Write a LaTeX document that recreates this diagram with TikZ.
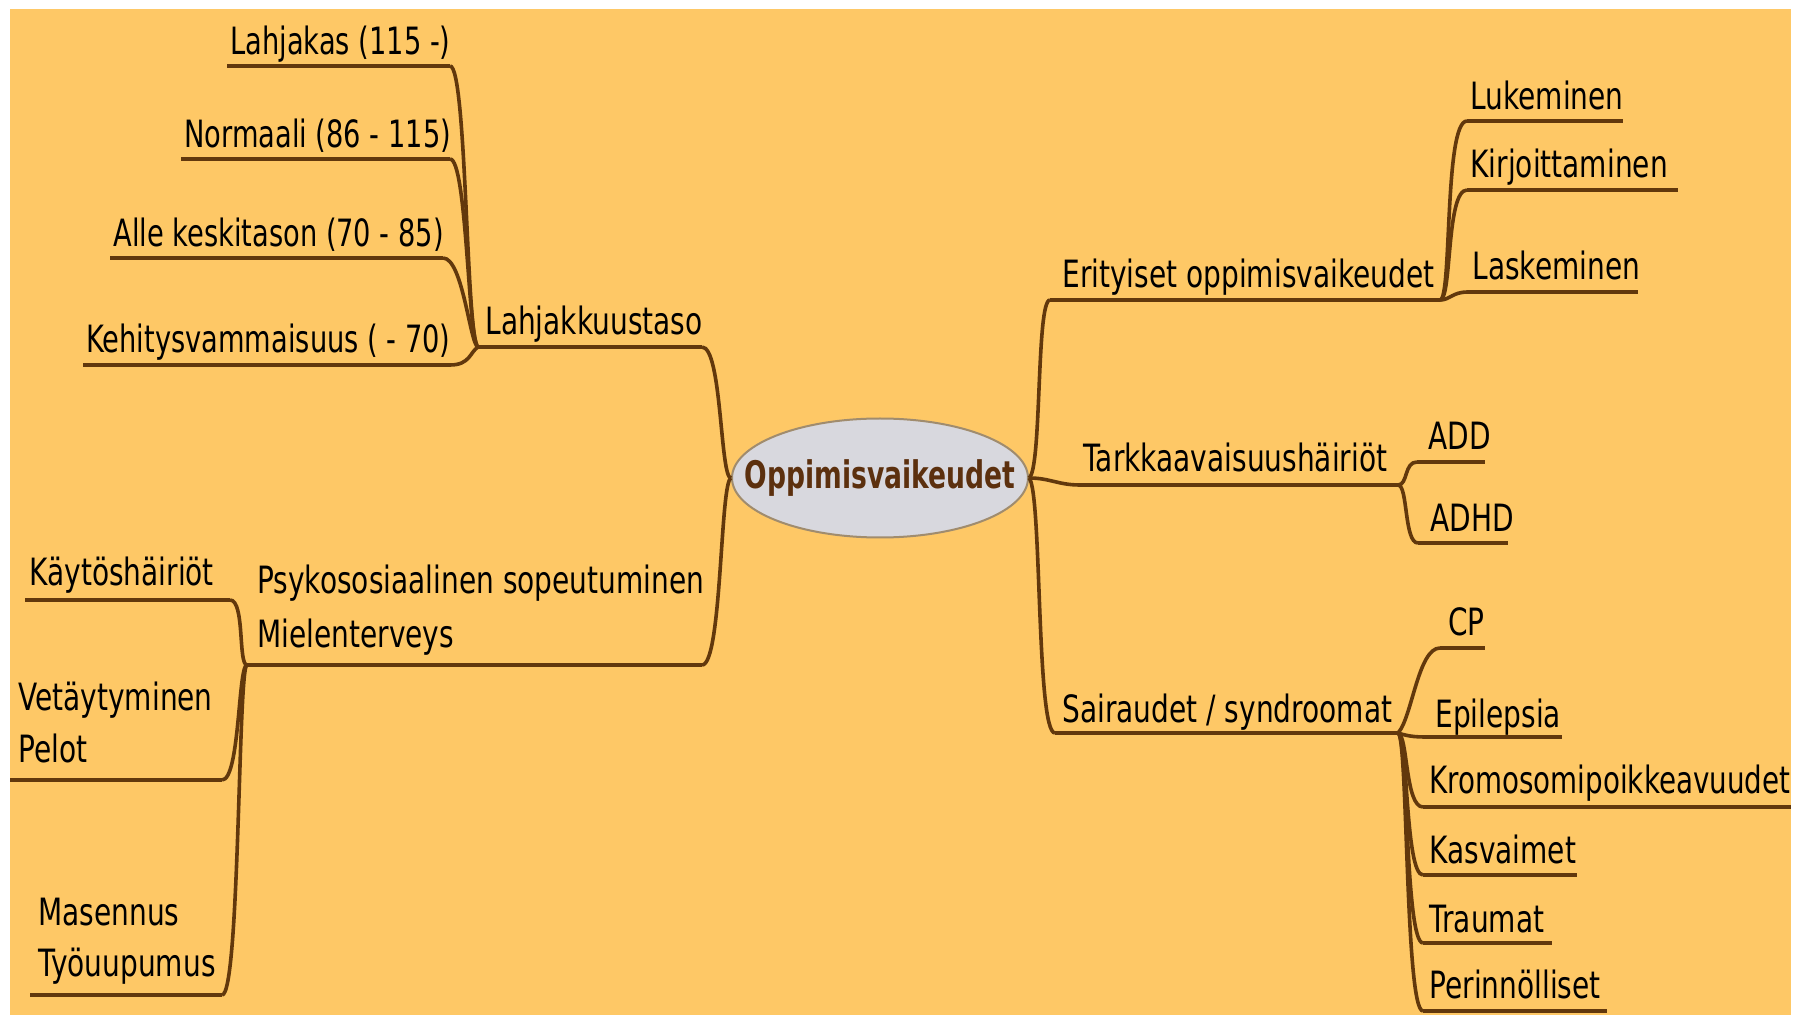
\documentclass[tikz,border=0pt]{standalone}
\usepackage{fontspec}
\setmainfont{DejaVu Sans}
\usepackage{graphicx}
\usetikzlibrary{shapes.geometric}
\definecolor{bg}{RGB}{254,200,102}
\definecolor{br}{RGB}{98,56,12}
\definecolor{ttl}{RGB}{92,48,14}
\definecolor{ellf}{RGB}{216,216,222}
\definecolor{ellb}{RGB}{160,140,110}
\newcommand{\tx}[1]{\scalebox{0.745}[1]{#1}}
\newcommand{\txn}[1]{\scalebox{0.725}[1]{#1}}
\tikzset{
  lbl/.style={font=\fontsize{18.8}{22}\selectfont, text=black, inner sep=0pt, anchor=base west},
  uline/.style={draw=br, line width=2.3pt},
  conn/.style={draw=br, line width=1.8pt},
  hub/.style={ellipse, fill=ellf, draw=ellb, line width=1pt, minimum width=148pt, minimum height=59.5pt, inner sep=0pt},
}
\begin{document}
\begin{tikzpicture}[x=0.5pt,y=-0.5pt]
\useasboundingbox (0,0) rectangle (1793,1015);
\fill[white] (0,0) rectangle (1793,1015);
\fill[bg] (10,9) rectangle (1791,1015);

% centre
\node[hub] (c) at (880,478) {\makebox[0pt]{\fontsize{19}{22}\selectfont\bfseries\color{ttl}\scalebox{0.70}[1]{Oppimisvaikeudet}}};

% ---------- Lahjakkuustaso ----------
\node[lbl] (lahjt) at (485,335) {\tx{Lahjakkuustaso}};
\coordinate (J1) at (478,347);
\coordinate (J1e) at (702,347);
\draw[uline] (J1) -- (J1e);
\draw[conn] (J1e) .. controls (722,347) and (720,478) .. (c.west);

\node[lbl] (lahj) at (230,55) {\txn{Lahjakas (115 -)}};
\coordinate (lahjA) at (227,66); \coordinate (lahjB) at (450,66);
\draw[uline] (lahjA) -- (lahjB);
\draw[conn] (lahjB) .. controls (467,66) and (466,340) .. (J1);

\node[lbl] (norm) at (184,148) {\txn{Normaali (86 - 115)}};
\coordinate (normA) at (181,159); \coordinate (normB) at (450,159);
\draw[uline] (normA) -- (normB);
\draw[conn] (normB) .. controls (467,159) and (468,340) .. (J1);

\node[lbl] (alle) at (113,247) {\txn{Alle keskitason (70 - 85)}};
\coordinate (alleA) at (110,258); \coordinate (alleB) at (443,258);
\draw[uline] (alleA) -- (alleB);
\draw[conn] (alleB) .. controls (463,258) and (470,345) .. (J1);

\node[lbl] (keh) at (86,353) {\txn{Kehitysvammaisuus ( - 70)}};
\coordinate (kehA) at (83,365); \coordinate (kehB) at (450,365);
\draw[uline] (kehA) -- (kehB);
\draw[conn] (kehB) .. controls (470,365) and (470,352) .. (J1);

% ---------- Psykososiaalinen ----------
\node[lbl] (psy1) at (257,594) {\tx{Psykososiaalinen sopeutuminen}};
\node[lbl] (psy2) at (257,647) {\tx{Mielenterveys}};
\coordinate (J2) at (247,665);
\coordinate (J2e) at (702,665);
\draw[uline] (J2) -- (J2e);
\draw[conn] (J2e) .. controls (722,665) and (720,482) .. (c.west);

\node[lbl] (kay) at (29,586) {\tx{Käytöshäiriöt}};
\coordinate (kayA) at (25,600); \coordinate (kayB) at (230,600);
\draw[uline] (kayA) -- (kayB);
\draw[conn] (kayB) .. controls (245,600) and (238,665) .. (J2);

\node[lbl] (vet1) at (18,710) {\tx{Vetäytyminen}};
\node[lbl] (vet2) at (18,762) {\tx{Pelot}};
\coordinate (vetA) at (10,780); \coordinate (vetB) at (222,780);
\draw[uline] (vetA) -- (vetB);
\draw[conn] (vetB) .. controls (240,780) and (238,665) .. (J2);

\node[lbl] (mas1) at (38,925) {\tx{Masennus}};
\node[lbl] (mas2) at (38,976) {\tx{Työuupumus}};
\coordinate (masA) at (30,995); \coordinate (masB) at (222,995);
\draw[uline] (masA) -- (masB);
\draw[conn] (masB) .. controls (240,995) and (238,665) .. (J2);

% ---------- Erityiset ----------
\node[lbl] (eri) at (1062,288) {\tx{Erityiset oppimisvaikeudet}};
\coordinate (eriA) at (1050,300); \coordinate (J3) at (1440,300);
\draw[conn] (c.east) .. controls (1042,470) and (1036,300) .. (eriA);
\draw[uline] (eriA) -- (J3);

\node[lbl] (luk) at (1470,110) {\tx{Lukeminen}};
\coordinate (lukA) at (1467,121); \coordinate (lukB) at (1623,121);
\draw[uline] (lukA) -- (lukB);
\draw[conn] (J3) .. controls (1452,300) and (1444,121) .. (lukA);

\node[lbl] (kir) at (1470,178) {\tx{Kirjoittaminen}};
\coordinate (kirA) at (1467,190); \coordinate (kirB) at (1678,190);
\draw[uline] (kirA) -- (kirB);
\draw[conn] (J3) .. controls (1452,300) and (1446,190) .. (kirA);

\node[lbl] (las) at (1472,280) {\tx{Laskeminen}};
\coordinate (lasA) at (1468,292); \coordinate (lasB) at (1638,292);
\draw[uline] (lasA) -- (lasB);
\draw[conn] (J3) .. controls (1450,300) and (1452,292) .. (lasA);

% ---------- Tarkkaavaisuus ----------
\node[lbl] (tar) at (1083,472) {\tx{Tarkkaavaisuushäiriöt}};
\coordinate (tarA) at (1080,485); \coordinate (J4) at (1398,485);
\draw[conn] (c.east) .. controls (1050,478) and (1058,485) .. (tarA);
\draw[uline] (tarA) -- (J4);

\node[lbl] (add) at (1428,450) {\tx{ADD}};
\coordinate (addA) at (1417,462); \coordinate (addB) at (1485,462);
\draw[uline] (addA) -- (addB);
\draw[conn] (J4) .. controls (1408,485) and (1404,462) .. (addA);

\node[lbl] (adhd) at (1430,532) {\tx{ADHD}};
\coordinate (adhdA) at (1418,543); \coordinate (adhdB) at (1508,543);
\draw[uline] (adhdA) -- (adhdB);
\draw[conn] (J4) .. controls (1408,485) and (1404,543) .. (adhdA);

% ---------- Sairaudet ----------
\node[lbl] (sai) at (1062,722) {\tx{Sairaudet / syndroomat}};
\coordinate (saiA) at (1055,733); \coordinate (J5) at (1398,733);
\draw[conn] (c.east) .. controls (1042,490) and (1036,733) .. (saiA);
\draw[uline] (saiA) -- (J5);

\node[lbl] (cp) at (1448,635) {\tx{CP}};
\coordinate (cpA) at (1440,648); \coordinate (cpB) at (1485,648);
\draw[uline] (cpA) -- (cpB);
\draw[conn] (J5) .. controls (1412,718) and (1418,648) .. (cpA);

\node[lbl] (epi) at (1435,727) {\tx{Epilepsia}};
\coordinate (epiA) at (1430,737); \coordinate (epiB) at (1562,737);
\draw[uline] (epiA) -- (epiB);
\draw[conn] (J5) .. controls (1410,737) and (1418,737) .. (epiA);

\node[lbl] (kro) at (1429,793) {\scalebox{0.738}[1]{Kromosomipoikkeavuudet}};
\coordinate (kroA) at (1423,807); \coordinate (kroB) at (1791,807);
\draw[uline] (kroA) -- (kroB);
\draw[conn] (J5) .. controls (1408,735) and (1405,807) .. (kroA);

\node[lbl] (kas) at (1429,863) {\tx{Kasvaimet}};
\coordinate (kasA) at (1423,875); \coordinate (kasB) at (1577,875);
\draw[uline] (kasA) -- (kasB);
\draw[conn] (J5) .. controls (1408,735) and (1405,875) .. (kasA);

\node[lbl] (tra) at (1429,932) {\tx{Traumat}};
\coordinate (traA) at (1423,943); \coordinate (traB) at (1552,943);
\draw[uline] (traA) -- (traB);
\draw[conn] (J5) .. controls (1408,735) and (1405,943) .. (traA);

\node[lbl] (per) at (1429,998) {\tx{Perinnölliset}};
\coordinate (perA) at (1423,1011); \coordinate (perB) at (1607,1011);
\draw[uline] (perA) -- (perB);
\draw[conn] (J5) .. controls (1408,735) and (1405,1011) .. (perA);
\end{tikzpicture}
\end{document}
